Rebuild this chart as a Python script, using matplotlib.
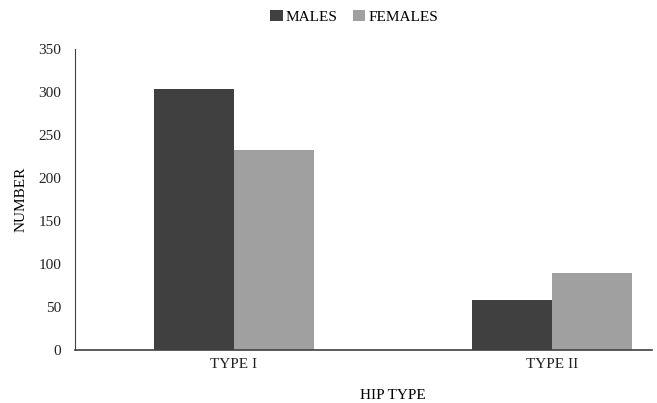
import numpy as np
import matplotlib
matplotlib.use("Agg")
import matplotlib.pyplot as plt

plt.rcParams['font.family'] = ['Liberation Serif', 'DejaVu Serif']

categories = ["TYPE I", "TYPE II"]
males = [303, 58]
females = [233, 89]

fig = plt.figure(figsize=(6.57, 4.03), dpi=100)
ax = fig.add_axes([75 / 657, 1 - 350 / 403, (652 - 75) / 657, (350 - 49) / 403])

x = np.arange(len(categories))
w = 0.252
ax.bar(x - w / 2, males, w, color="#404040", label="MALES")
ax.bar(x + w / 2, females, w, color="#a0a0a0", label="FEMALES")

ax.set_xlim(-0.5, 1.314)
ax.set_ylim(0, 350)
ax.set_yticks(np.arange(0, 351, 50))
ax.set_xticks(x)
ax.set_xticklabels(categories)
ax.tick_params(length=0, labelsize=11, colors="#222222", pad=6)
ax.tick_params(axis="y", pad=10)

for s in ["top", "right"]:
    ax.spines[s].set_visible(False)
ax.spines["left"].set_color("#404040")
ax.spines["bottom"].set_color("#404040")
ax.spines["bottom"].set_linewidth(1.2)

ax.set_xlabel("HIP TYPE", fontsize=11)
ax.xaxis.set_label_coords(0.551, -0.13)
ax.set_ylabel("NUMBER", fontsize=11, labelpad=8)

fig.legend(loc="upper center", bbox_to_anchor=(0.539, 1.01), ncol=2, frameon=False,
           fontsize=11, handlelength=0.8, handleheight=0.8, handletextpad=0.2,
           columnspacing=1.0)

fig.savefig("out.png", dpi=100)
